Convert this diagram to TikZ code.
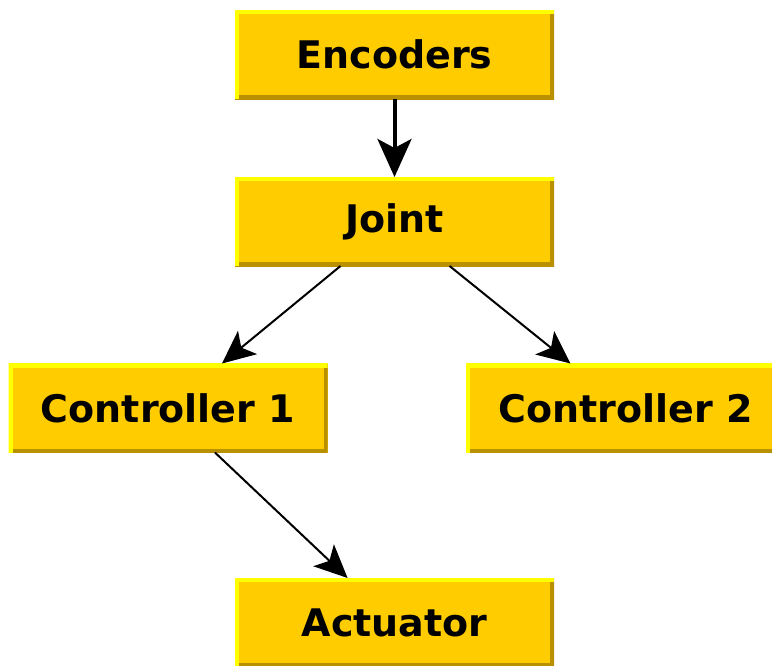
\documentclass[tikz,border=0pt]{standalone}
\usepackage{fontspec}
\setmainfont{DejaVu Sans}
\usetikzlibrary{arrows.meta}
\definecolor{boxfill}{RGB}{255,204,0}
\definecolor{boxlight}{RGB}{255,255,0}
\definecolor{boxdark}{RGB}{184,144,0}
\begin{document}
\begin{tikzpicture}[x=1pt,y=-1pt,
  block/.style={fill=boxfill, minimum width=319pt, minimum height=89pt,
    inner sep=0pt, outer sep=0pt,
    font=\fontsize{38}{45}\selectfont\bfseries,
    path picture={
      \draw[boxdark, line width=8pt]
        (path picture bounding box.north east) --
        (path picture bounding box.south east) --
        (path picture bounding box.south west);
      \draw[boxlight, line width=8pt]
        (path picture bounding box.south west) --
        (path picture bounding box.north west) --
        (path picture bounding box.north east);
    }},
  link/.style={line width=2pt, -{Stealth[length=33pt,width=30pt,inset=8pt]}},
  heavylink/.style={line width=4pt, -{Stealth[length=38pt,width=34pt,inset=9pt]}}]
  \useasboundingbox (0,0) rectangle (772,665);
  \clip (0,0) rectangle (772,665);

  \node[block] (enc)  at (394.5,54.5)  {Encoders};
  \node[block] (joint) at (394.5,221.5) {Joint};
  \node[block] (c1)   at (168,408)     {Controller 1};
  \node[block] (c2)   at (625.5,408)   {Controller 2};
  \node[block] (act)  at (394.5,622.5) {Actuator};

  \draw[heavylink] (enc) -- (joint);
  \draw[link] (joint) -- (c1);
  \draw[link] (joint) -- (c2);
  \draw[link] (c1) -- (act);
\end{tikzpicture}
\end{document}
